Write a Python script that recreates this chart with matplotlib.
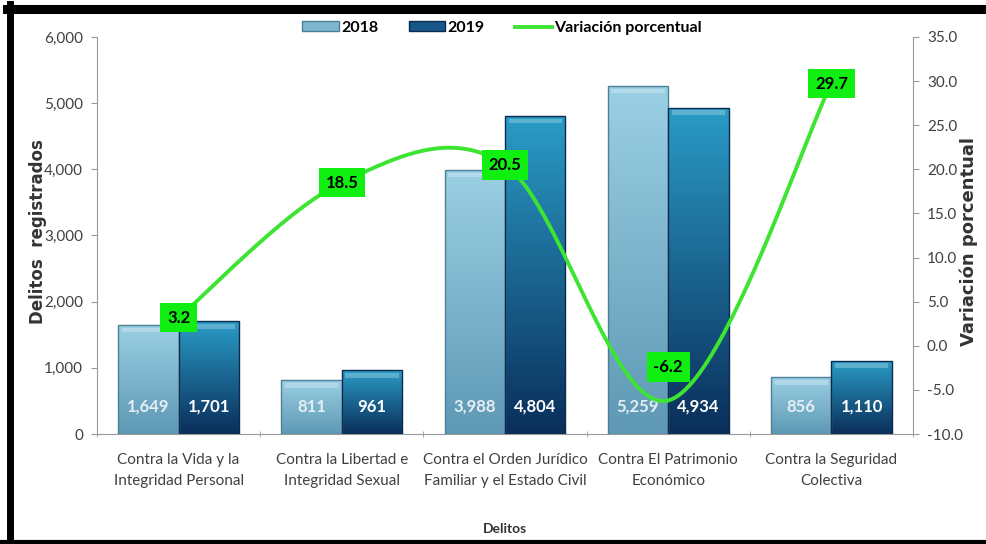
import numpy as np
import matplotlib
matplotlib.use('Agg')
import matplotlib.pyplot as plt
from matplotlib.colors import LinearSegmentedColormap
from matplotlib.patches import Patch
from matplotlib.lines import Line2D
from matplotlib.ticker import FuncFormatter, FixedLocator

# datos
categorias = ['Contra la Vida y la\nIntegridad Personal',
              'Contra la Libertad e\nIntegridad Sexual',
              'Contra el Orden Jurídico\nFamiliar y el Estado Civil',
              'Contra El Patrimonio\nEconómico',
              'Contra la Seguridad\nColectiva']
delitos_2018 = [1649, 811, 3988, 5259, 856]
delitos_2019 = [1701, 961, 4804, 4934, 1110]
variacion = [3.2, 18.5, 20.5, -6.2, 29.7]

# desplazamiento vertical (pt) de cada etiqueta de variacion
desp_etiqueta = [0, 0, 0, 24, 0]

plt.rcParams['font.family'] = ['Lato', 'DejaVu Sans']
TXT = '#404040'
VERDE = '#3ee432'
CAJA = '#11ee11'


def curva_suave(xs, ys, n=50):
    """Curva bezier suavizada (estilo Excel) que pasa por los puntos."""
    xs = np.asarray(xs, float)
    ys = np.asarray(ys, float)
    px = np.concatenate([[xs[0]], xs, [xs[-1]]])
    py = np.concatenate([[ys[0]], ys, [ys[-1]]])
    t = np.linspace(0, 1, n)[:, None]
    tramos = []
    for i in range(len(xs) - 1):
        p0 = np.array([px[i], py[i]])
        p1 = np.array([px[i + 1], py[i + 1]])
        p2 = np.array([px[i + 2], py[i + 2]])
        p3 = np.array([px[i + 3], py[i + 3]])
        c1 = p1 + (p2 - p0) / 6
        c2 = p2 - (p3 - p1) / 6
        b = ((1 - t) ** 3) * p1 + 3 * ((1 - t) ** 2) * t * c1 + 3 * (1 - t) * t ** 2 * c2 + t ** 3 * p2
        tramos.append(b)
    pts = np.vstack(tramos)
    return pts[:, 0], pts[:, 1]


def barras_degradado(ax, barras, c_arriba, c_abajo, borde):
    cmap = LinearSegmentedColormap.from_list('g', [c_abajo, c_arriba])
    grad = np.linspace(0, 1, 256).reshape(-1, 1)
    for b in barras:
        x0, y0 = b.get_x(), b.get_y()
        w, h = b.get_width(), b.get_height()
        im = ax.imshow(grad, extent=[x0, x0 + w, y0, y0 + h], origin='lower',
                       cmap=cmap, aspect='auto', zorder=2)
        im.set_clip_path(b)
        b.set_facecolor('none')
        b.set_edgecolor(borde)
        b.set_linewidth(1.0)
        b.set_zorder(3)
        # brillo superior
        ax.add_patch(plt.Rectangle((x0 + w * 0.06, y0 + h - 110), w * 0.88, 70,
                                   facecolor='white', alpha=0.25, lw=0, zorder=3))


fig = plt.figure(figsize=(9.87, 5.44), dpi=100)
ax = fig.add_axes([0.0983, 0.2022, 0.8267, 0.7298])

x = np.arange(len(categorias))
ancho = 0.37
b18 = ax.bar(x - ancho / 2, delitos_2018, ancho)
b19 = ax.bar(x + ancho / 2, delitos_2019, ancho)
barras_degradado(ax, b18, '#9bd0e4', '#5e98b4', '#4d7f96')
barras_degradado(ax, b19, '#2a9cc6', '#0a2e5a', '#0b2a4e')

ax.set_xlim(-0.5, len(categorias) - 0.5)
ax.set_ylim(0, 6000)
ax.set_yticks(np.arange(0, 6001, 1000))
ax.yaxis.set_major_formatter(FuncFormatter(lambda v, p: f'{int(v):,}'))
ax.set_xticks(x)
ax.set_xticklabels(categorias, fontsize=11, color=TXT, linespacing=1.6)
ax.xaxis.set_minor_locator(FixedLocator(np.arange(-0.5, len(categorias), 1.0)))
ax.tick_params(axis='x', which='major', length=0, pad=14)
ax.tick_params(axis='x', which='minor', length=5, direction='inout', color='#999999')
ax.tick_params(axis='y', labelsize=11, labelcolor=TXT, length=4, color='#999999', pad=6)
for s in ['top', 'right']:
    ax.spines[s].set_visible(False)
for s in ['left', 'bottom']:
    ax.spines[s].set_color('#999999')

# valores dentro de las barras
for i in range(len(categorias)):
    ax.text(x[i] - ancho / 2, 0.068, f'{delitos_2018[i]:,}', transform=ax.get_xaxis_transform(),
            ha='center', va='center', fontsize=12, fontweight='bold', color='#e4eef4', zorder=5)
    ax.text(x[i] + ancho / 2, 0.068, f'{delitos_2019[i]:,}', transform=ax.get_xaxis_transform(),
            ha='center', va='center', fontsize=12, fontweight='bold', color='white', zorder=5)

# eje secundario: variacion porcentual
ax2 = ax.twinx()
ax2.set_ylim(-10, 35)
ax2.set_yticks(np.arange(-10, 35.1, 5))
ax2.yaxis.set_major_formatter(FuncFormatter(lambda v, p: f'{v:.1f}'))
ax2.tick_params(axis='y', labelsize=11, labelcolor=TXT, length=4, color='#999999', pad=6)
for s in ['top', 'left', 'bottom']:
    ax2.spines[s].set_visible(False)
ax2.spines['right'].set_color('#999999')

cx, cy = curva_suave(x, variacion)
ax2.plot(cx, cy, color=VERDE, lw=2.8, solid_capstyle='round', zorder=4)
for i, v in enumerate(variacion):
    ax2.annotate(f'{v:.1f}', (x[i], v), xytext=(0, desp_etiqueta[i]), textcoords='offset points',
                 ha='center', va='center', fontsize=12, fontweight='bold', color='black', zorder=6,
                 bbox=dict(boxstyle='square,pad=0.4', facecolor=CAJA, edgecolor='none'))

# textos de ejes
fig.text(38 / 987, 1 - 232 / 544, 'Delitos  registrados', rotation=90, ha='center', va='center',
         fontsize=12, fontweight='bold', color='#333333', family='DejaVu Sans')
fig.text(969 / 987, 1 - 242 / 544, 'Variación porcentual', rotation=90, ha='center', va='center',
         fontsize=13, fontweight='bold', color='#333333', family='DejaVu Sans')
fig.text(505 / 987, 1 - 529 / 544, 'Delitos', ha='center', va='center',
         fontsize=10, fontweight='bold', color='#333333')

# leyenda
handles = [Patch(facecolor='#7fb6cf', edgecolor='#4d7f96'),
           Patch(facecolor='#16578a', edgecolor='#0b2a4e'),
           Line2D([0], [0], color=VERDE, lw=2.8)]
fig.legend(handles, ['2018', '2019', 'Variación porcentual'], loc='center',
           bbox_to_anchor=(502 / 987, 1 - 28 / 544), ncol=3, frameon=False,
           prop={'weight': 'bold', 'size': 11.5}, handlelength=2.3, handleheight=0.6,
           handletextpad=0.15, columnspacing=1.9)

# marco negro
fig.add_artist(Line2D([7 / 987, 1], [1 - 8.5 / 544] * 2, transform=fig.transFigure,
                      color='black', lw=6.5))
fig.add_artist(Line2D([10.5 / 987] * 2, [0, 1 - 4 / 544], transform=fig.transFigure,
                      color='black', lw=5))
fig.add_artist(Line2D([0, 1], [2 / 544] * 2, transform=fig.transFigure,
                      color='black', lw=3))

fig.savefig('out.png', dpi=100)
